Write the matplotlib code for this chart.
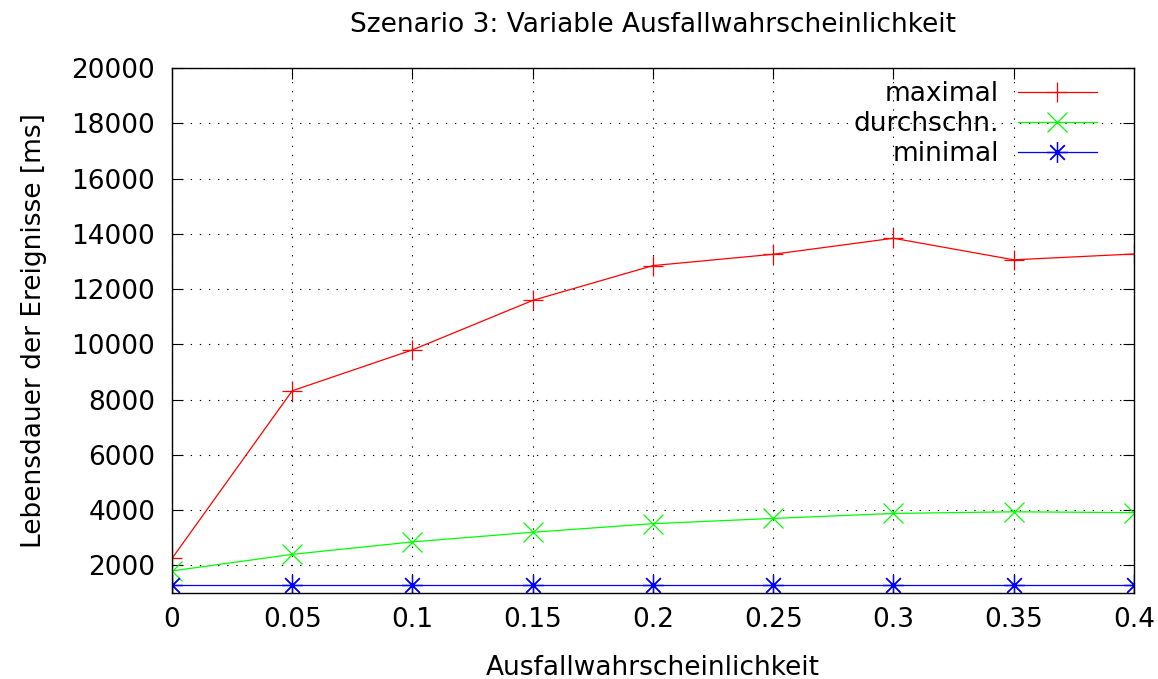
import matplotlib
matplotlib.use("Agg")
import matplotlib.pyplot as plt

# values
prob = [0.0, 0.05, 0.1, 0.15, 0.2, 0.25, 0.3, 0.35, 0.4]
maximal = [2250, 8320, 9800, 11590, 12850, 13260, 13840, 13060, 13270]
durchschn = [1800, 2400, 2850, 3200, 3510, 3700, 3880, 3940, 3910]
minimal = [1290, 1290, 1290, 1290, 1290, 1290, 1290, 1290, 1290]

xtick_labels = ["0", "0.05", "0.1", "0.15", "0.2", "0.25", "0.3", "0.35", "0.4"]
yticks = [2000, 4000, 6000, 8000, 10000, 12000, 14000, 16000, 18000, 20000]

plt.rcParams["font.family"] = ["DejaVu Sans"]
FS = 19

fig = plt.figure(figsize=(11.58, 6.79), dpi=100)
ax = fig.add_axes([0.1485, 0.1266, 0.8307, 0.7732])

lw = 0.9
ax.plot(prob, maximal, color="#ff0000", lw=lw, marker="+", ms=15, mew=lw,
        label="maximal")
ax.plot(prob, durchschn, color="#00ff00", lw=lw, marker="x", ms=15, mew=lw,
        label="durchschn.")
ax.plot(prob, minimal, color="#0000ff", lw=lw, marker=(8, 2, 0), ms=15, mew=lw,
        label="minimal")

ax.set_xlim(0, 0.4)
ax.set_ylim(1000, 20000)
ax.set_xticks(prob)
ax.set_xticklabels(xtick_labels)
ax.set_yticks(yticks)

ax.grid(True, color="black", lw=0.8, linestyle=(0, (1.2, 7)))
ax.tick_params(direction="in", length=8, width=0.8, top=True, right=True,
               labelsize=FS, colors="black")
ax.tick_params(axis="x", pad=10)
ax.tick_params(axis="y", pad=12)
for s in ax.spines.values():
    s.set_linewidth(1.0)

ax.set_title("Szenario 3: Variable Ausfallwahrscheinlichkeit", fontsize=FS, pad=26)
ax.set_xlabel("Ausfallwahrscheinlichkeit", fontsize=FS, labelpad=16)
ax.set_ylabel("Lebensdauer der Ereignisse [ms]", fontsize=FS, labelpad=18)

ax.legend(loc="upper right", bbox_to_anchor=(0.9615, 0.975), frameon=False,
          markerfirst=False, fontsize=FS, handlelength=3.0, handletextpad=0.7,
          labelspacing=0.15, borderpad=0, borderaxespad=0)

fig.savefig("out.png", dpi=100)
